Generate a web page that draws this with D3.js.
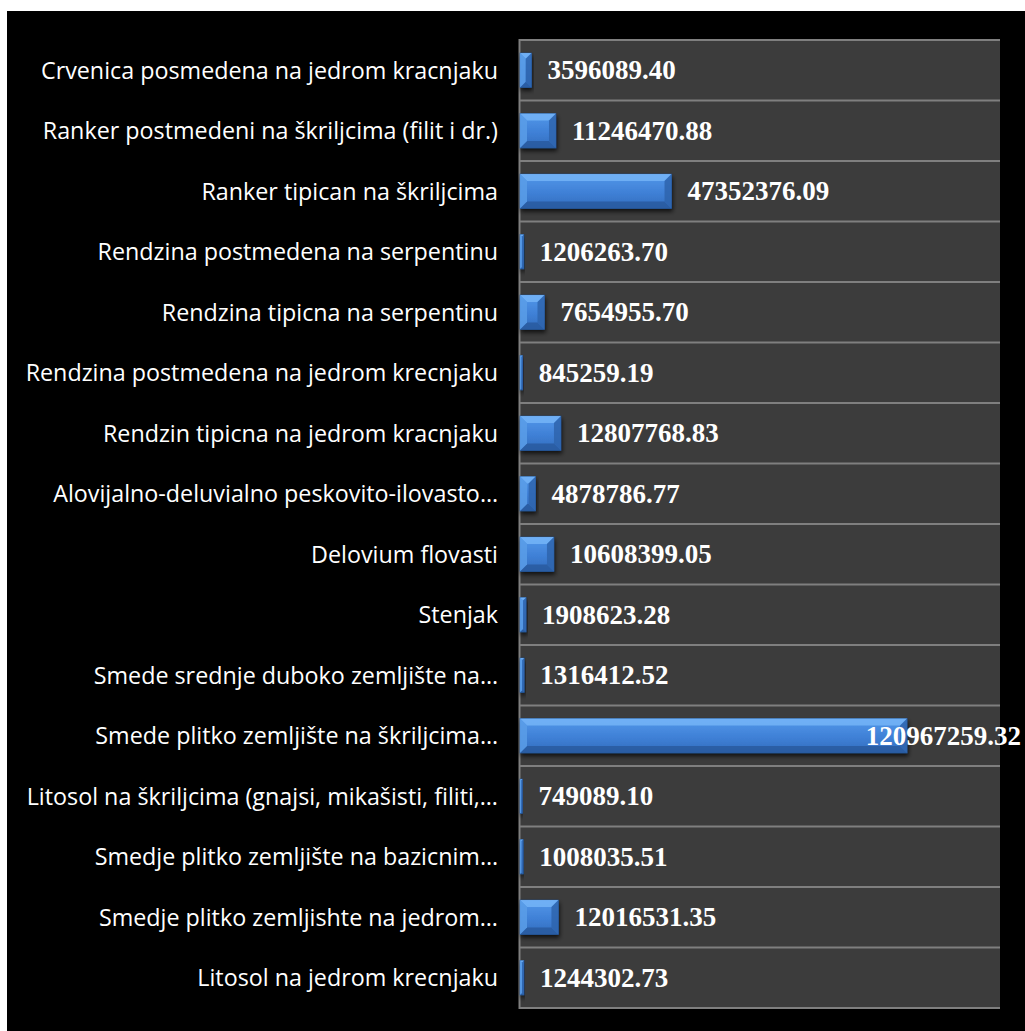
<!DOCTYPE html>
<html><head><meta charset="utf-8">
<script src="https://cdn.jsdelivr.net/npm/d3@7"></script>
<style>body{margin:0;background:#fff;}svg{display:block;}</style>
</head><body>
<script>
const categories = [
  "Crvenica posmedena na jedrom kracnjaku",
  "Ranker postmedeni na škriljcima (filit i dr.)",
  "Ranker tipican na škriljcima",
  "Rendzina postmedena na serpentinu",
  "Rendzina tipicna na serpentinu",
  "Rendzina postmedena na jedrom krecnjaku",
  "Rendzin tipicna na jedrom kracnjaku",
  "Alovijalno-deluvialno peskovito-ilovasto…",
  "Delovium flovasti",
  "Stenjak",
  "Smede srednje duboko zemljište na…",
  "Smede plitko zemljište na škriljcima…",
  "Litosol na škriljcima (gnajsi, mikašisti, filiti,…",
  "Smedje plitko zemljište na bazicnim…",
  "Smedje plitko zemljishte na jedrom…",
  "Litosol na jedrom krecnjaku"
];
const values = [3596089.40, 11246470.88, 47352376.09, 1206263.70, 7654955.70, 845259.19,
  12807768.83, 4878786.77, 10608399.05, 1908623.28, 1316412.52, 120967259.32,
  749089.10, 1008035.51, 12016531.35, 1244302.73];
const axisDomain = [0, 150000000];

const W = 1025, H = 1031;
const svg = d3.select("body").append("svg").attr("width", W).attr("height", H);
const defs = svg.append("defs");
const g1 = defs.append("linearGradient").attr("id","face").attr("x1",0).attr("y1",0).attr("x2",0).attr("y2",1);
g1.append("stop").attr("offset","0%").attr("stop-color","#5398ea");
g1.append("stop").attr("offset","55%").attr("stop-color","#3f80d6");
g1.append("stop").attr("offset","100%").attr("stop-color","#326dbd");
const f = defs.append("filter").attr("id","sh").attr("x","-10%").attr("y","-30%").attr("width","130%").attr("height","180%");
f.append("feDropShadow").attr("dx",1).attr("dy",3).attr("stdDeviation",2).attr("flood-color","#000").attr("flood-opacity",0.7);

svg.append("rect").attr("x",7).attr("y",11).attr("width",W-7).attr("height",H-11).attr("fill","#000");

const x = d3.scaleLinear().domain(axisDomain).range([520, 1000]);
const y = d3.scaleBand().domain(categories).range([40, 1008]).paddingInner(0.43).paddingOuter(0.215);

svg.append("rect").attr("x",519).attr("y",40).attr("width",481).attr("height",968).attr("fill","#3c3c3c");

const bounds = d3.range(categories.length + 1).map(i => 40 + i * (968 / categories.length));
svg.append("g").selectAll("line").data(bounds).join("line")
  .attr("x1",519).attr("x2",1000).attr("y1",d=>d).attr("y2",d=>d)
  .attr("stroke","#7f7f7f").attr("stroke-width",2);
svg.append("line").attr("x1",519.5).attr("x2",519.5).attr("y1",39).attr("y2",1009)
  .attr("stroke","#7f7f7f").attr("stroke-width",2);

const bars = svg.append("g");
categories.forEach((c, i) => {
  const x0 = x(0), x1 = x(values[i]);
  const y0 = y(c), y1 = y0 + y.bandwidth();
  const w = x1 - x0;
  const b = Math.min(7, w / 2);
  const gg = bars.append("g");
  gg.append("rect").attr("x",x0).attr("y",y0).attr("width",w).attr("height",y1-y0)
    .attr("fill","url(#face)").attr("filter","url(#sh)").attr("stroke","#1f4f8f").attr("stroke-width",0.6);
  const poly = (pts, fill, op) => gg.append("polygon").attr("points", pts.map(p=>p.join(",")).join(" ")).attr("fill",fill).attr("opacity",op);
  poly([[x0,y0],[x1,y0],[x1-b,y0+b],[x0+b,y0+b]], "#74b4f7", 0.85);
  poly([[x0,y1],[x1,y1],[x1-b,y1-b],[x0+b,y1-b]], "#28599c", 0.8);
  poly([[x0,y0],[x0+b,y0+b],[x0+b,y1-b],[x0,y1]], "#5b9de8", 0.85);
  poly([[x1,y0],[x1-b,y0+b],[x1-b,y1-b],[x1,y1]], "#2e64ad", 0.85);
});

const fmt = d3.format(".2f");
const vl = svg.append("g").attr("font-family","'Liberation Serif','Times New Roman',serif")
  .attr("font-weight","bold").attr("font-size",27).attr("fill","#fff");
categories.forEach((c, i) => {
  const t = vl.append("text").attr("y", y(c) + y.bandwidth()/2).attr("dy","0.34em").text(fmt(values[i]));
  const tw = t.node().getComputedTextLength();
  let tx = x(values[i]) + 16;
  if (tx + tw > 1021) tx = 1021 - tw;
  t.attr("x", tx);
});

svg.append("g").attr("font-family","'Open Sans',sans-serif").attr("font-size",23.3).attr("fill","#fff")
  .attr("text-anchor","end")
  .selectAll("text").data(categories).join("text")
  .attr("x",498).attr("y",d=>y(d)+y.bandwidth()/2).attr("dy","0.36em").text(d=>d);
</script>
</body></html>
